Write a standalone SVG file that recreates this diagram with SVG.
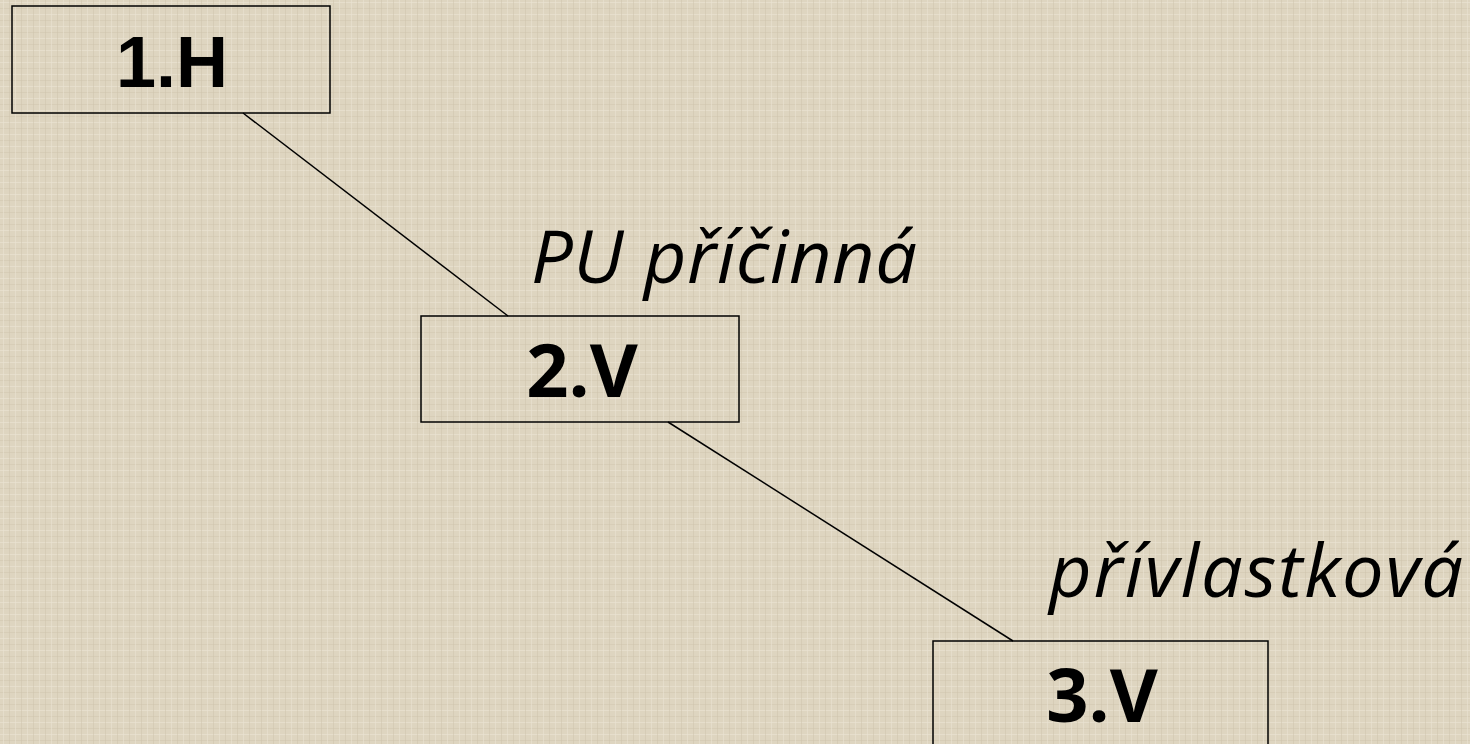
<svg xmlns="http://www.w3.org/2000/svg" width="1470" height="744" viewBox="0 0 1470 744">
<defs>
<pattern id="tex" width="12" height="12" patternUnits="userSpaceOnUse">
<rect width="12" height="12" fill="#DED5C0"/>
<rect x="0" y="2" width="12" height="1" fill="#EAE3D2" opacity="0.7"/>
<rect x="0" y="8" width="12" height="1" fill="#CFC5AE" opacity="0.5"/>
<rect x="3" y="0" width="1" height="12" fill="#EAE3D2" opacity="0.6"/>
<rect x="9" y="0" width="1" height="12" fill="#CDC3AB" opacity="0.5"/>
</pattern>
</defs>
<style>
.box{fill:none;stroke:#000;stroke-width:1.5}
.lbl{font-family:"Open Sans","Noto Sans","DejaVu Sans",sans-serif;font-weight:bold;font-size:74px;fill:#000;text-anchor:middle}
.h{font-family:"Liberation Sans",Arial,sans-serif;font-weight:bold;font-size:72px;fill:#000;text-anchor:middle}
.it{font-family:"Open Sans","Noto Sans","DejaVu Sans",sans-serif;font-style:italic;font-size:74px;fill:#000}
.con{stroke:#000;stroke-width:1.5;fill:none}
</style>
<rect width="1470" height="744" fill="url(#tex)"/>
<g id="connectors">
<line class="con" x1="243" y1="113" x2="508" y2="316"/>
<line class="con" x1="668" y1="422" x2="1013" y2="641"/>
</g>
<g id="node1">
<rect class="box" x="12" y="6" width="318" height="107"/>
<text class="h" x="172" y="87">1.H</text>
</g>
<g id="label1">
<text class="it" x="531" y="283" textLength="386" lengthAdjust="spacing">PU příčinná</text>
</g>
<g id="node2">
<rect class="box" x="421" y="316" width="318" height="106"/>
<text class="lbl" x="582" y="397">2.V</text>
</g>
<g id="label2">
<text class="it" x="1049" y="597" textLength="414" lengthAdjust="spacing">přívlastková</text>
</g>
<g id="node3">
<rect class="box" x="933" y="641" width="335" height="110"/>
<text class="lbl" x="1102" y="722">3.V</text>
</g>
</svg>
